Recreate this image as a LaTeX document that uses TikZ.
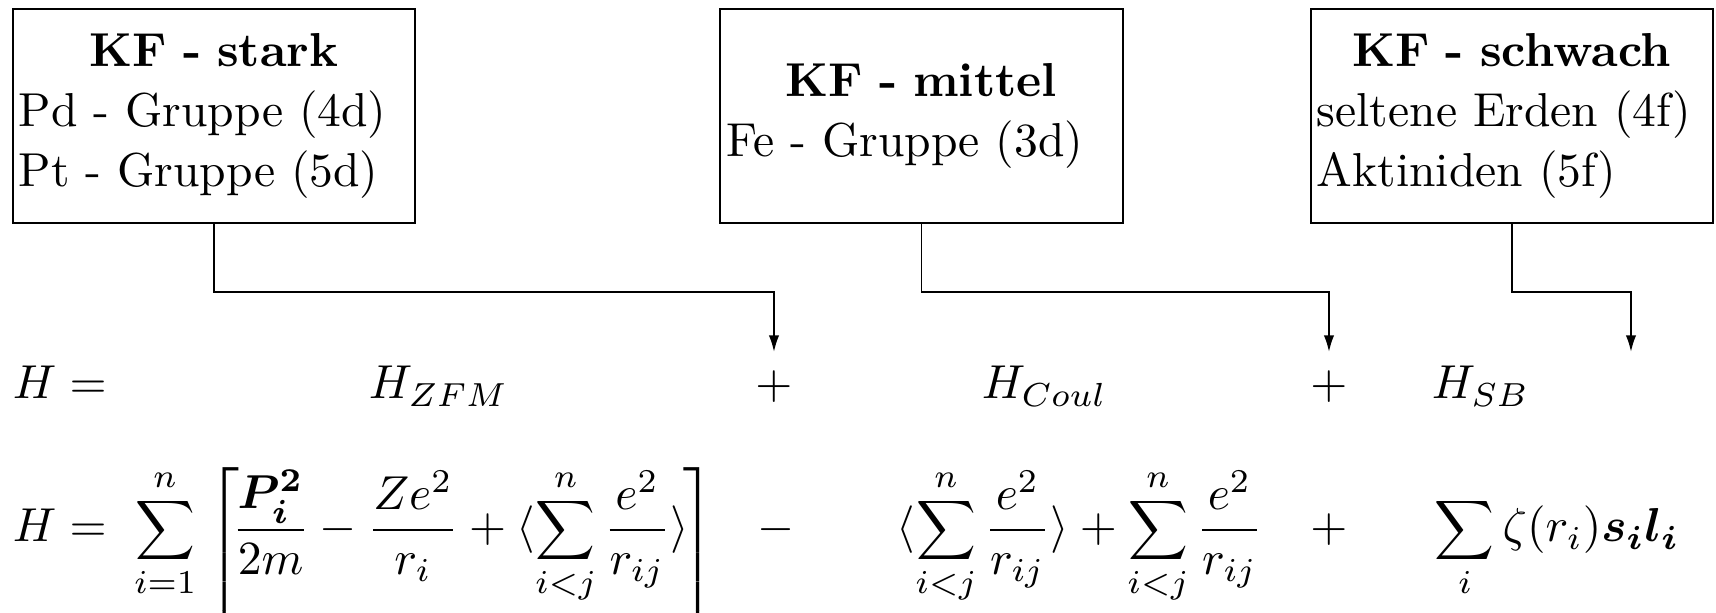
\documentclass[tikz,border=0pt]{standalone}
\usepackage{amsmath}
\usepackage{graphicx}
\usetikzlibrary{arrows.meta,calc}
\newcommand\Smm{\mathop{\vcenter{\hbox{\scalebox{0.87}{$\displaystyle\sum$}}}}\limits}
\begin{document}
\begin{tikzpicture}[x=0.21pt,y=0.21pt,
  font=\fontsize{10}{12.6}\selectfont,
  kfbox/.style={draw,line width=0.4pt,rectangle,minimum width=84.6pt,minimum height=44.9pt,
    text width=82pt,inner xsep=1.3pt,inner ysep=0pt,align=left},
  conn/.style={line width=0.4pt,-{Latex[length=3.5pt,width=2.2pt]}},
  mth/.style={inner sep=0pt}]
\useasboundingbox (0,0) rectangle (1716,613);

% boxes
\node[kfbox] (b1) at (214,497) {\makebox[\hsize]{\textbf{KF - stark}}\\Pd - Gruppe (4d)\\Pt - Gruppe (5d)};
\node[kfbox] (b2) at (921.5,497) {\makebox[\hsize]{\textbf{KF - mittel}}\\Fe - Gruppe (3d)};
\node[kfbox] (b3) at (1512,497) {\makebox[\hsize]{\textbf{KF - schwach}}\\seltene Erden (4f)\\Aktiniden (5f)};

% arrow ends
\coordinate (a1) at (774,261);
\coordinate (a2) at (1329,261);
\coordinate (a3) at (1631,261);
\draw[conn] (b1.south) |- ($(a1)+(0,60)$) -- (a1);
\draw[conn] (b2.south) |- ($(a2)+(0,60)$) -- (a2);
\draw[conn] (b3.south) |- ($(a3)+(0,60)$) -- (a3);

% row 1
\node[mth,anchor=base west] (r1h) at (12,214) {$H =$};
\node[mth,anchor=base west] (r1zfm) at (368,214) {$H_{ZFM}$};
\node[mth,anchor=base] (r1p1) at (774,214) {$+$};
\node[mth,anchor=base west] (r1coul) at (981,214) {$H_{Coul}$};
\node[mth,anchor=base] (r1p2) at (1329,214) {$+$};
\node[mth,anchor=base west] (r1sb) at (1431,214) {$H_{SB}$};

% row 2
\node[mth,anchor=base west] (r2h) at (12,71) {$H =$};
\node[mth,anchor=base] (r2sum) at (165,71) {$\displaystyle\Smm_{i=1}^{n}$};
\node[mth,anchor=north west] (r2lb) at (207,146) {$\left[\vrule height 22pt depth 22pt width 0pt\right.$};
\node[mth,anchor=base west] (r2a) at (231,71) {$\displaystyle\frac{\boldsymbol{P_i^2}}{2m}-\frac{Ze^2}{r_i}+\langle\Smm_{i<j}^{n}\frac{e^2}{r_{ij}}\rangle$};
\node[mth,anchor=north east] (r2rb) at (716,146) {$\left.\vrule height 22pt depth 22pt width 0pt\right]$};
\node[mth,anchor=base] (r2m) at (776,71) {$-$};
\node[mth,anchor=base west] (r2b) at (896,71) {$\displaystyle\langle\Smm_{i<j}^{n}\frac{e^2}{r_{ij}}\rangle+\Smm_{i<j}^{n}\frac{e^2}{r_{ij}}$};
\node[mth,anchor=base] (r2p) at (1329,71) {$+$};
\node[mth,anchor=base west] (r2c) at (1434,71) {$\displaystyle\Smm_{i}\zeta(r_i)\boldsymbol{s_il_i}$};
\end{tikzpicture}
\end{document}
